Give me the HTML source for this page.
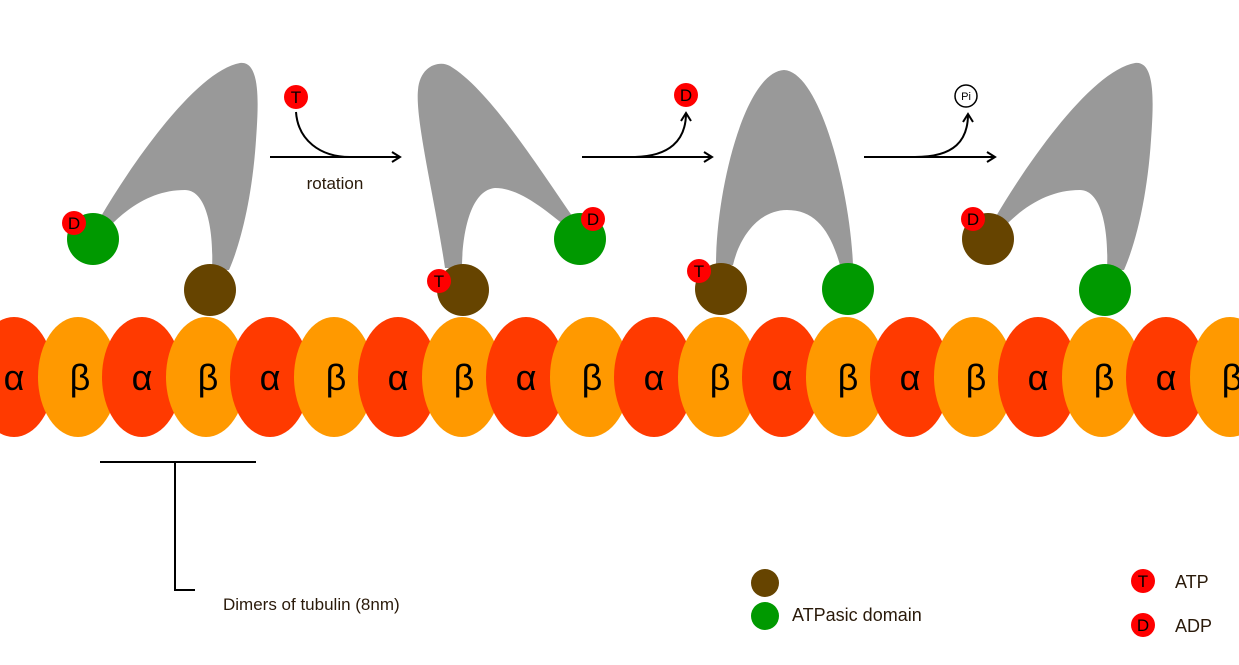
<!DOCTYPE html>
<html><head><meta charset="utf-8"><style>
body{margin:0;background:#fff;width:1239px;height:660px;overflow:hidden}
text{font-family:"Liberation Sans","DejaVu Sans",sans-serif}
</style></head><body>
<svg width="1239" height="660" viewBox="0 0 1239 660" xmlns="http://www.w3.org/2000/svg">
<defs>
<marker id="ah" markerWidth="12" markerHeight="12" refX="10" refY="6" orient="auto" markerUnits="userSpaceOnUse">
<path d="M2,1 L10,6 L2,11" fill="none" stroke="#000" stroke-width="2"/></marker>
</defs>
<!-- tubulin -->
<g font-size="36" text-anchor="middle">
<g id="tub">
<ellipse cx="14" cy="377" rx="40" ry="60" fill="#ff3a00"/><text x="14" y="390">α</text>
<ellipse cx="78" cy="377" rx="40" ry="60" fill="#ff9900"/><text x="80" y="390">β</text>
<ellipse cx="142" cy="377" rx="40" ry="60" fill="#ff3a00"/><text x="142" y="390">α</text>
<ellipse cx="206" cy="377" rx="40" ry="60" fill="#ff9900"/><text x="208" y="390">β</text>
<ellipse cx="270" cy="377" rx="40" ry="60" fill="#ff3a00"/><text x="270" y="390">α</text>
<ellipse cx="334" cy="377" rx="40" ry="60" fill="#ff9900"/><text x="336" y="390">β</text>
<ellipse cx="398" cy="377" rx="40" ry="60" fill="#ff3a00"/><text x="398" y="390">α</text>
<ellipse cx="462" cy="377" rx="40" ry="60" fill="#ff9900"/><text x="464" y="390">β</text>
<ellipse cx="526" cy="377" rx="40" ry="60" fill="#ff3a00"/><text x="526" y="390">α</text>
<ellipse cx="590" cy="377" rx="40" ry="60" fill="#ff9900"/><text x="592" y="390">β</text>
<ellipse cx="654" cy="377" rx="40" ry="60" fill="#ff3a00"/><text x="654" y="390">α</text>
<ellipse cx="718" cy="377" rx="40" ry="60" fill="#ff9900"/><text x="720" y="390">β</text>
<ellipse cx="782" cy="377" rx="40" ry="60" fill="#ff3a00"/><text x="782" y="390">α</text>
<ellipse cx="846" cy="377" rx="40" ry="60" fill="#ff9900"/><text x="848" y="390">β</text>
<ellipse cx="910" cy="377" rx="40" ry="60" fill="#ff3a00"/><text x="910" y="390">α</text>
<ellipse cx="974" cy="377" rx="40" ry="60" fill="#ff9900"/><text x="976" y="390">β</text>
<ellipse cx="1038" cy="377" rx="40" ry="60" fill="#ff3a00"/><text x="1038" y="390">α</text>
<ellipse cx="1102" cy="377" rx="40" ry="60" fill="#ff9900"/><text x="1104" y="390">β</text>
<ellipse cx="1166" cy="377" rx="40" ry="60" fill="#ff3a00"/><text x="1166" y="390">α</text>
<ellipse cx="1230" cy="377" rx="40" ry="60" fill="#ff9900"/><text x="1232" y="390">β</text>
</g></g>
<!-- motors -->
<g fill="#999">
<path d="M100,218 C140,150 200,70 240,63 C262,60 258,110 256,140 C252,200 240,245 229,270 L212,270 C214,225 205,190 185,190 C155,190 130,205 108,228 Z"/>
<path d="M445,268 C435,200 415,120 418,90 C420,65 440,60 450,66 C490,90 540,170 575,220 L568,228 C545,210 520,188 495,188 C470,190 462,235 462,268 Z"/>
<path d="M716,265 C716,190 745,72 784,70 C820,72 850,190 853,265 L840,265 C830,230 815,210 787,210 C760,210 740,235 733,265 Z"/>
<path transform="translate(895,0)" d="M100,218 C140,150 200,70 240,63 C262,60 258,110 256,140 C252,200 240,245 229,270 L212,270 C214,225 205,190 185,190 C155,190 130,205 108,228 Z"/>
</g>
<circle cx="93" cy="239" r="26" fill="#009900"/>
<circle cx="210" cy="290" r="26" fill="#664400"/>
<circle cx="463" cy="290" r="26" fill="#664400"/>
<circle cx="580" cy="239" r="26" fill="#009900"/>
<circle cx="721" cy="289" r="26" fill="#664400"/>
<circle cx="848" cy="289" r="26" fill="#009900"/>
<circle cx="988" cy="239" r="26" fill="#664400"/>
<circle cx="1105" cy="290" r="26" fill="#009900"/>
<g font-size="17" text-anchor="middle">
<circle cx="74" cy="223" r="12" fill="#f00"/><text x="74" y="229">D</text>
<circle cx="593" cy="219" r="12" fill="#f00"/><text x="593" y="225">D</text>
<circle cx="439" cy="281" r="12" fill="#f00"/><text x="439" y="287">T</text>
<circle cx="699" cy="271" r="12" fill="#f00"/><text x="699" y="277">T</text>
<circle cx="973" cy="219" r="12" fill="#f00"/><text x="973" y="225">D</text>
<circle cx="296" cy="97" r="12" fill="#f00"/><text x="296" y="103">T</text>
<circle cx="686" cy="95" r="12" fill="#f00"/><text x="686" y="101">D</text>
<circle cx="966" cy="96" r="11" fill="#fff" stroke="#000" stroke-width="1.5"/><text x="966" y="100" font-size="11">Pi</text>
</g>
<!-- arrows -->
<g fill="none" stroke="#000" stroke-width="2">
<line x1="270" y1="157" x2="400" y2="157" marker-end="url(#ah)"/>
<path d="M296,112 C298,140 320,157 350,157"/>
<line x1="582" y1="157" x2="712" y2="157" marker-end="url(#ah)"/>
<path d="M632,157 C670,157 686,140 686,113" marker-end="url(#ah)"/>
<line x1="864" y1="157" x2="995" y2="157" marker-end="url(#ah)"/>
<path d="M915,157 C955,157 968,140 968,114" marker-end="url(#ah)"/>
<path d="M100,462 H256 M175,462 V590 H195"/>
</g>
<text x="335" y="189" font-size="17" text-anchor="middle" fill="#2a1a0a">rotation</text>
<text x="223" y="610" font-size="17" fill="#2a1a0a">Dimers of tubulin (8nm)</text>
<!-- legend -->
<circle cx="765" cy="583" r="14" fill="#664400"/>
<circle cx="765" cy="616" r="14" fill="#009900"/>
<text x="792" y="621" font-size="18" fill="#2a1a0a">ATPasic domain</text>
<circle cx="1143" cy="581" r="12" fill="#f00"/><text x="1143" y="587" font-size="17" text-anchor="middle">T</text>
<circle cx="1143" cy="625" r="12" fill="#f00"/><text x="1143" y="631" font-size="17" text-anchor="middle">D</text>
<text x="1175" y="588" font-size="18" fill="#2a1a0a">ATP</text>
<text x="1175" y="632" font-size="18" fill="#2a1a0a">ADP</text>
</svg>
</body></html>
